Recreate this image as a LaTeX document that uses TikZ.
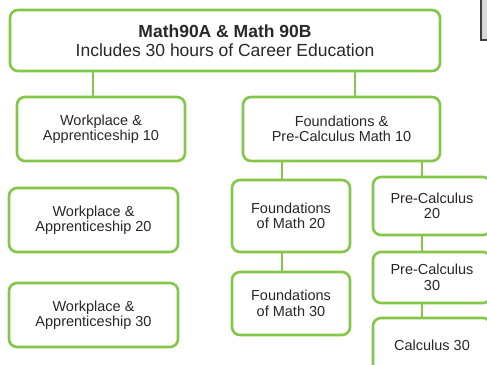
\documentclass[tikz,border=0pt]{standalone}
\usepackage{fontspec}
\setmainfont{Liberation Sans}
\definecolor{boxgreen}{RGB}{132,198,72}
\definecolor{textgray}{RGB}{40,40,40}
\tikzset{
	course/.style={draw=boxgreen, line width=2.6pt, rounded corners=8pt, fill=white,
		align=center, text=textgray, inner sep=0pt, font=\fontsize{14.5}{15.5}\selectfont},
	link/.style={draw=boxgreen, line width=2.6pt}
}
\begin{document}
\begin{tikzpicture}[x=1pt,y=-1pt]
	% Page frame
	\useasboundingbox (0,0) rectangle (487,364);
	\clip (0,0) rectangle (487,364);
	
	% Grey box cut by the top right corner
	\draw[fill=black!15, draw=black!75, line width=1.2pt] (481,-5) rectangle (500,40);
	
	% Top box
	\node[course, minimum width=430pt, minimum height=61pt, font=\fontsize{17.5}{18.5}\selectfont] (top) at (225,40.5)
		{\textbf{Math90A \& Math 90B}\\Includes 30 hours of Career Education};
	
	% Workplace column
	\node[course, minimum width=168pt, minimum height=64pt] (wa10) at (101,129) {Workplace \&\\Apprenticeship 10};
	\node[course, minimum width=169pt, minimum height=64pt] (wa20) at (93.5,220) {Workplace \&\\Apprenticeship 20};
	\node[course, minimum width=169pt, minimum height=64pt] (wa30) at (93.5,315) {Workplace \&\\Apprenticeship 30};
	
	% Foundations and Pre-Calculus columns
	\node[course, minimum width=197pt, minimum height=64pt] (fpc10) at (341.5,129) {Foundations \&\\Pre-Calculus Math 10};
	\node[course, minimum width=118pt, minimum height=72pt] (fom20) at (291,216) {Foundations\\of Math 20};
	\node[course, minimum width=118pt, minimum height=63pt] (fom30) at (291,303.5) {Foundations\\of Math 30};
	\node[course, minimum width=118pt, minimum height=58pt] (pc20) at (432,206) {Pre-Calculus\\20};
	\node[course, minimum width=118pt, minimum height=51pt] (pc30) at (432,277.5) {Pre-Calculus\\30};
	\node[course, minimum width=118pt, minimum height=54pt] (calc30) at (432,345) {Calculus 30};
	
	% Connectors
	\draw[link] ([xshift=-8pt]wa10.north) -- ([xshift=-8pt]wa10.north |- top.south);
	\draw[link] ([xshift=13.5pt]fpc10.north) -- ([xshift=13.5pt]fpc10.north |- top.south);
	\draw[link] ([xshift=-9pt]fom20.north) -- ([xshift=-9pt]fom20.north |- fpc10.south);
	\draw[link] ([xshift=-10pt]pc20.north) -- ([xshift=-10pt]pc20.north |- fpc10.south);
	\draw[link] ([xshift=-9pt]fom30.north) -- ([xshift=-9pt]fom30.north |- fom20.south);
	\draw[link] ([xshift=-10pt]pc30.north) -- ([xshift=-10pt]pc30.north |- pc20.south);
	\draw[link] ([xshift=-10pt]calc30.north) -- ([xshift=-10pt]calc30.north |- pc30.south);
\end{tikzpicture}
\end{document}
